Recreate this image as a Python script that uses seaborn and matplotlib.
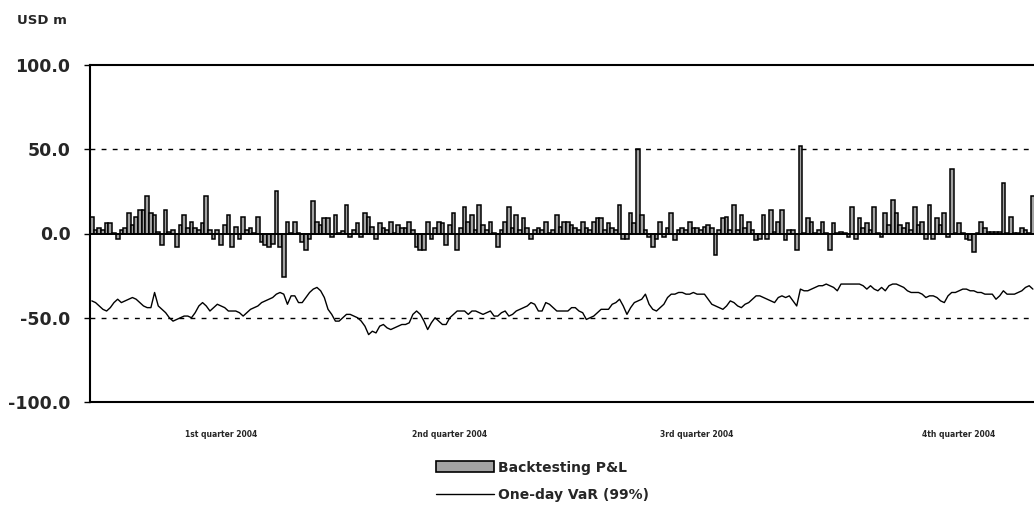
import matplotlib
matplotlib.use("Agg")
import matplotlib.pyplot as plt
import pandas as pd
import seaborn as sns
from matplotlib.lines import Line2D
from matplotlib.patches import Patch

# daily backtesting P&L (USD m) in six stretches, left to right
pnl_part1 = [10, 2, 3, 2, 6, 6, 0.5, -3, 2, 3, 12, 5, 10, 14, 14, 22, 12, 11, 1, -7, 14,
             1, 2, -8, 5, 11, 3, 7, 3, 2, 6, 22, 2, -3, 2, -7, 5, 11, -8, 4, -3, 10]
pnl_part2 = [2, 3, 0.5, 10, -5, -7, -8, -6, 25, -8, -26, 7, 0.5, 7, 0.5, -5, -10, -3, 19, 7,
             5, 9, 9, -2, 11, 0.5, 1.5, 17, -2, 2, 6, -2, 12, 10, 4, -3, 6, 3, 2, 7, 0.5, 5, 3]
pnl_part3 = [3, 7, 2, -8, -10, -10, 7, -3, 3, 7, 6, -7, 5, 12, -10, 3, 16, 7, 11, 2, 17, 5,
             2, 7, 0.5, -8, 2, 7, 16, 3, 11, 2, 9, 3, -3, 2, 3, 2, 7, 0.5, 2, 11, 4]
pnl_part4 = [7, 7, 5, 3, 2, 7, 3, 2, 7, 9, 9, 2, 6, 3, 2, 17, -3, -3, 12, 6, 50, 11, 2, -2,
             -8, -3, 7, -2, 3, 12, -4, 2, 3, 2, 7, 3, 3, 2, 4, 5, 3, -13, 2, 9]
pnl_part5 = [10, 2, 17, 2, 11, 3, 7, 2, -4, -3, 11, -3, 14, 1, 7, 14, -4, 2, 2, -10, 52, 0.5,
             9, 7, 0.5, 2, 7, 0.5, -10, 6, 0.5, 1, 0.5, -2, 16, -3, 9, 3, 6, 2, 16, 0.5]
pnl_part6 = [-2, 12, 5, 20, 12, 5, 3, 6, 2, 16, 5, 7, -3, 17, -3, 9, 5, 12, -2, 38, 0.5, 6,
             0.5, -3, -4, -11, 0.5, 7, 3, 1, 1, 1, 1, 30, 0.5, 10, 0.5, 0.5, 3, 2, 0.5, 22]

# one-day VaR (99%), same stretches
var_part1 = [-40, -41, -43, -45, -46, -44, -41, -39, -41, -40, -39, -38, -39, -41, -43, -44,
             -44, -35, -43, -45, -47, -50, -52, -51, -50, -49, -49, -50, -47, -43, -41, -43,
             -46, -44, -42, -43, -44, -46, -46, -46, -47, -49]
var_part2 = [-47, -45, -44, -43, -41, -40, -39, -38, -36, -35, -36, -42, -37, -37, -41, -41,
             -38, -35, -33, -32, -34, -38, -45, -48, -52, -52, -50, -48, -48, -49, -50, -52,
             -55, -60, -58, -59, -55, -54, -56, -57, -56, -55, -54]
var_part3 = [-54, -53, -48, -46, -48, -52, -57, -53, -50, -52, -54, -54, -50, -48, -46, -46,
             -46, -48, -46, -46, -47, -48, -47, -46, -49, -49, -47, -46, -49, -48, -46, -45,
             -44, -43, -41, -42, -46, -46, -41, -42, -44, -46, -46]
var_part4 = [-46, -46, -44, -44, -46, -47, -51, -50, -49, -47, -45, -45, -45, -42, -41, -39,
             -43, -48, -44, -41, -40, -39, -36, -42, -45, -46, -44, -42, -38, -36, -36, -35,
             -35, -36, -36, -35, -36, -36, -36, -39, -42, -43, -44, -45]
var_part5 = [-43, -40, -41, -43, -44, -42, -41, -39, -37, -37, -38, -39, -40, -41, -38, -37,
             -38, -37, -40, -43, -33, -34, -34, -33, -32, -31, -31, -30, -31, -32, -34, -30,
             -30, -30, -30, -30, -30, -31, -33, -31, -33, -34]
var_part6 = [-32, -34, -31, -30, -30, -31, -32, -34, -35, -35, -35, -36, -38, -37, -37, -38,
             -40, -41, -37, -35, -35, -34, -33, -33, -34, -34, -35, -35, -36, -36, -36, -39,
             -37, -34, -36, -36, -36, -35, -34, -32, -31, -33]

quarter_labels = ["1st quarter 2004", "2nd quarter 2004", "3rd quarter 2004", "4th quarter 2004"]
quarter_label_days = [35, 97, 164, 235]
y_ticks = [-100, -50, 0, 50, 100]

pnl = pnl_part1 + pnl_part2 + pnl_part3 + pnl_part4 + pnl_part5 + pnl_part6
var = var_part1 + var_part2 + var_part3 + var_part4 + var_part5 + var_part6
df = pd.DataFrame({"day": range(len(pnl)), "pnl": pnl, "var": var})

sns.set_theme(style="white")
plt.rcParams["font.family"] = ["DejaVu Sans"]

fig = plt.figure(figsize=(10.34, 5.27), dpi=100)
ax = fig.add_axes([90 / 1034, 1 - 402 / 527, 944 / 1034, 337 / 527])

sns.barplot(data=df, x="day", y="pnl", native_scale=True, width=1.0, color="#a3a3a3",
            saturation=1, edgecolor="black", linewidth=1.1, errorbar=None, ax=ax)
sns.lineplot(data=df, x="day", y="var", color="black", linewidth=1.0, ax=ax)

ax.axhline(0, color="black", linewidth=1.3, zorder=3)
for level in (50, -50):
    ax.axhline(level, color="black", linewidth=1.0, linestyle=(0, (3.5, 4.5)), zorder=1)

ax.set_xlim(-0.5, len(pnl) - 0.7)
ax.set_ylim(-100, 100)
ax.set_yticks(y_ticks)
ax.set_yticklabels([f"{v:.1f}" for v in y_ticks], fontsize=12.5, fontweight="bold")
ax.set_xticks(quarter_label_days)
ax.set_xticklabels(quarter_labels, fontsize=5.5, fontweight="bold")
ax.tick_params(axis="y", which="major", direction="out", length=4, width=1, color="black",
               left=True, pad=10)
ax.tick_params(axis="x", length=0, pad=20)
ax.set_xlabel("")
ax.set_ylabel("")

for side in ("left", "top", "bottom"):
    ax.spines[side].set_color("black")
    ax.spines[side].set_linewidth(1.5)
ax.spines["right"].set_visible(False)

fig.text(17 / 1034, 1 - 20 / 527, "USD m", fontsize=9.5, fontweight="bold", va="center")

handles = [
    Patch(facecolor="#a3a3a3", edgecolor="black", linewidth=1.2),
    Line2D([0], [0], color="black", linewidth=1.0),
]
fig.legend(handles, ["Backtesting P&L", "One-day VaR (99%)"], loc="upper left",
           bbox_to_anchor=(430 / 1034, 1 - 455 / 527), frameon=False,
           prop={"size": 10, "weight": "bold"}, handlelength=4.2, handleheight=0.8,
           handletextpad=0.3, labelspacing=1.0, borderaxespad=0)

fig.savefig("out.png", dpi=100)
